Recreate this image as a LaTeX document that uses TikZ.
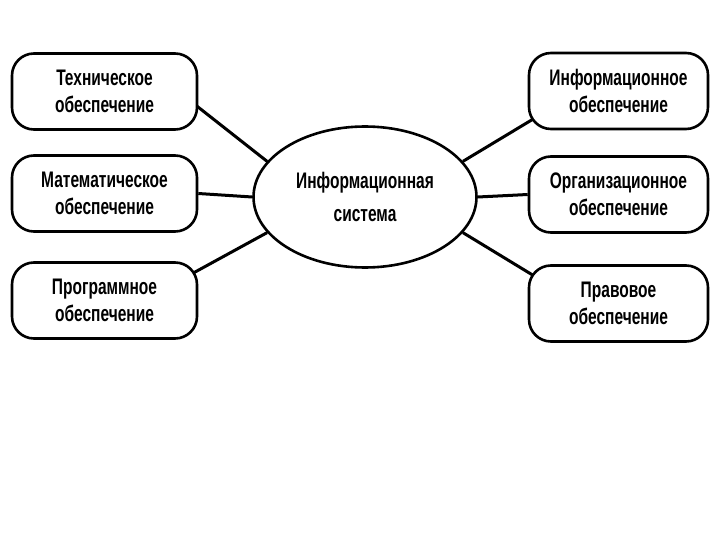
\documentclass[tikz,border=0pt]{standalone}
\usepackage{fontspec}
\setmainfont{Liberation Sans}[FakeStretch=0.69]
\usetikzlibrary{positioning,calc,shapes.geometric,backgrounds}

\begin{document}
\begin{tikzpicture}[x=1pt, y=-1pt,
  box/.style={draw, line width=2.6pt, fill=white, rounded corners=22pt,
    minimum width=185pt, minimum height=76pt, inner sep=0pt,
    align=center, font=\bfseries\fontsize{22.5}{27}\selectfont},
  link/.style={line width=3pt}]
  \useasboundingbox (0,0) rectangle (720,540);

  % Left column
  \node[box] (tech) at (104.5,91.5) {Техническое\\обеспечение};
  \node[box] (math) at (104.5,193.5) {Математическое\\обеспечение};
  \node[box] (prog) at (104.5,300.5) {Программное\\обеспечение};

  % Right column
  \node[box, minimum width=179pt] (info) at (618.5,91) {Информационное\\обеспечение};
  \node[box, minimum width=179pt] (org) at (618.5,194.5) {Организационное\\обеспечение};
  \node[box, minimum width=179pt] (law) at (618.5,303.5) {Правовое\\обеспечение};

  % Centre
  \node[ellipse, draw, line width=2.6pt, fill=white, minimum width=223pt,
    minimum height=141pt, inner sep=0pt, align=center,
    font=\bfseries\fontsize{22.5}{33}\selectfont] (sys) at (365,197) {Информационная\\система};

  % Links
  \begin{scope}[on background layer]
    \draw[link] (sys.160) -- ([xshift=-20pt]tech.east);
    \draw[link] (sys.west) -- (math.east);
    \draw[link] (sys.200) -- ($(prog.north east)+(-20pt,-20pt)$);
    \draw[link] (sys.20) -- ($(info.south west)+(20pt,20pt)$);
    \draw[link] (sys.east) -- (org.west);
    \draw[link] (sys.-20) -- ($(law.north west)+(20pt,-20pt)$);
  \end{scope}
\end{tikzpicture}
\end{document}
